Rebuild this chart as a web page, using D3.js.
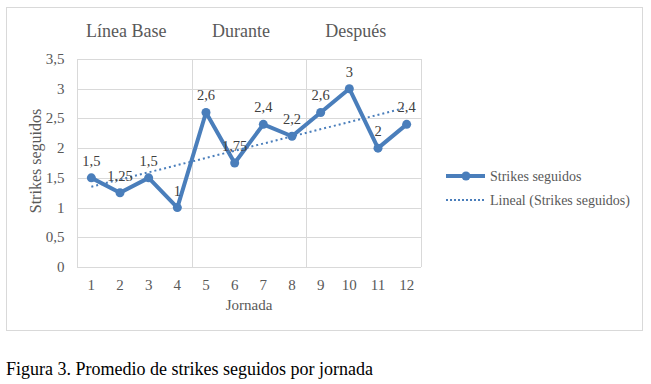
<!DOCTYPE html>
<html>
<head>
<meta charset="utf-8">
<script src="https://cdn.jsdelivr.net/npm/d3@7"></script>
<style>
  body { margin: 0; background: #fff; }
  svg text { font-family: "Liberation Serif", "Times New Roman", serif; }
</style>
</head>
<body>
<svg id="chart" width="651" height="384"></svg>
<script>
// data
const jornadas = ["1","2","3","4","5","6","7","8","9","10","11","12"];
const strikes = [1.5, 1.25, 1.5, 1, 2.6, 1.75, 2.4, 2.2, 2.6, 3, 2, 2.4];
const labels = ["1,5","1,25","1,5","1","2,6","1,75","2,4","2,2","2,6","3","2","2,4"];
const yTicks = [0, 0.5, 1, 1.5, 2, 2.5, 3, 3.5];
const phases = [
  {name: "Línea Base", from: 0, to: 4},
  {name: "Durante", from: 4, to: 8},
  {name: "Después", from: 8, to: 12}
];

const blue = "#4a7ebb";
const grid = "#d9d9d9";
const txt = "#595959";

const svg = d3.select("#chart");

// outer chart frame
svg.append("rect")
  .attr("x", 6.5).attr("y", 7.5)
  .attr("width", 636).attr("height", 323)
  .attr("fill", "#fff").attr("stroke", grid);

const pLeft = 77, pRight = 421, pTop = 59, pBottom = 267;

const x = d3.scaleBand().domain(jornadas).range([pLeft, pRight]);
const y = d3.scaleLinear().domain([0, 3.5]).range([pBottom, pTop]);
const cx = (d, i) => x(jornadas[i]) + x.bandwidth() / 2;

// horizontal gridlines
svg.selectAll(".hgrid")
  .data(yTicks).enter()
  .append("line")
  .attr("class", "hgrid")
  .attr("x1", pLeft).attr("x2", pRight)
  .attr("y1", d => Math.round(y(d)) + 0.5)
  .attr("y2", d => Math.round(y(d)) + 0.5)
  .attr("stroke", grid);

// phase separators (vertical)
const sepIdx = [0, 4, 8, 12];
svg.selectAll(".vgrid")
  .data(sepIdx).enter()
  .append("line")
  .attr("class", "vgrid")
  .attr("x1", d => Math.round(pLeft + d * x.step()) + 0.5)
  .attr("x2", d => Math.round(pLeft + d * x.step()) + 0.5)
  .attr("y1", pTop).attr("y2", pBottom)
  .attr("stroke", grid);

// y tick labels
svg.selectAll(".ytick")
  .data(yTicks).enter()
  .append("text")
  .attr("class", "ytick")
  .attr("x", 64.5)
  .attr("y", d => y(d) + 5)
  .attr("text-anchor", "end")
  .attr("font-size", 15)
  .attr("fill", txt)
  .text(d => String(d).replace(".", ","));

// x tick labels
svg.selectAll(".xtick")
  .data(jornadas).enter()
  .append("text")
  .attr("class", "xtick")
  .attr("x", d => x(d) + x.bandwidth() / 2)
  .attr("y", 290)
  .attr("text-anchor", "middle")
  .attr("font-size", 15)
  .attr("fill", txt)
  .text(d => d);

// axis titles
svg.append("text")
  .attr("x", 249).attr("y", 310)
  .attr("text-anchor", "middle")
  .attr("font-size", 15)
  .attr("fill", txt)
  .text("Jornada");

svg.append("text")
  .attr("transform", "translate(41,161) rotate(-90)")
  .attr("text-anchor", "middle")
  .attr("font-size", 16)
  .attr("fill", txt)
  .text("Strikes seguidos");

// phase labels
svg.selectAll(".phase")
  .data(phases).enter()
  .append("text")
  .attr("class", "phase")
  .attr("x", d => pLeft + (d.from + d.to) / 2 * x.step() - 8)
  .attr("y", 37)
  .attr("text-anchor", "middle")
  .attr("font-size", 18)
  .attr("fill", txt)
  .text(d => d.name);

// linear trend
const xs = strikes.map((d, i) => i + 1);
const mx = d3.mean(xs), my = d3.mean(strikes);
const slope = d3.sum(xs, (v, i) => (v - mx) * (strikes[i] - my)) / d3.sum(xs, v => (v - mx) ** 2);
const icpt = my - slope * mx;
svg.append("line")
  .attr("x1", cx(null, 0)).attr("y1", y(icpt + slope * 1))
  .attr("x2", cx(null, 11)).attr("y2", y(icpt + slope * 12))
  .attr("stroke", blue)
  .attr("stroke-width", 2)
  .attr("stroke-dasharray", "2,3");

// main series
const line = d3.line().x((d, i) => cx(d, i)).y(d => y(d));
svg.append("path")
  .datum(strikes)
  .attr("d", line)
  .attr("fill", "none")
  .attr("stroke", blue)
  .attr("stroke-width", 4)
  .attr("stroke-linejoin", "round");

svg.selectAll(".dot")
  .data(strikes).enter()
  .append("circle")
  .attr("class", "dot")
  .attr("cx", cx)
  .attr("cy", d => y(d))
  .attr("r", 4.5)
  .attr("fill", blue);

svg.selectAll(".dlabel")
  .data(strikes).enter()
  .append("text")
  .attr("class", "dlabel")
  .attr("x", cx)
  .attr("y", d => y(d) - 12)
  .attr("text-anchor", "middle")
  .attr("font-size", 14.5)
  .attr("fill", "#404040")
  .text((d, i) => labels[i]);

// legend
const lg = svg.append("g").attr("transform", "translate(446,176)");
lg.append("line").attr("x1", 0).attr("x2", 39).attr("y1", 0).attr("y2", 0)
  .attr("stroke", blue).attr("stroke-width", 4);
lg.append("circle").attr("cx", 20).attr("cy", 0).attr("r", 4.5).attr("fill", blue);
lg.append("text").attr("x", 44).attr("y", 5)
  .attr("font-size", 14).attr("fill", txt).text("Strikes seguidos");
lg.append("line").attr("x1", 0).attr("x2", 39).attr("y1", 24).attr("y2", 24)
  .attr("stroke", blue).attr("stroke-width", 2).attr("stroke-dasharray", "2,2");
lg.append("text").attr("x", 44).attr("y", 29)
  .attr("font-size", 14).attr("fill", txt).text("Lineal (Strikes seguidos)");

// caption
svg.append("text")
  .attr("x", 6).attr("y", 375)
  .attr("font-size", 18)
  .attr("fill", "#000")
  .text("Figura 3. Promedio de strikes seguidos por jornada");
</script>
</body>
</html>
